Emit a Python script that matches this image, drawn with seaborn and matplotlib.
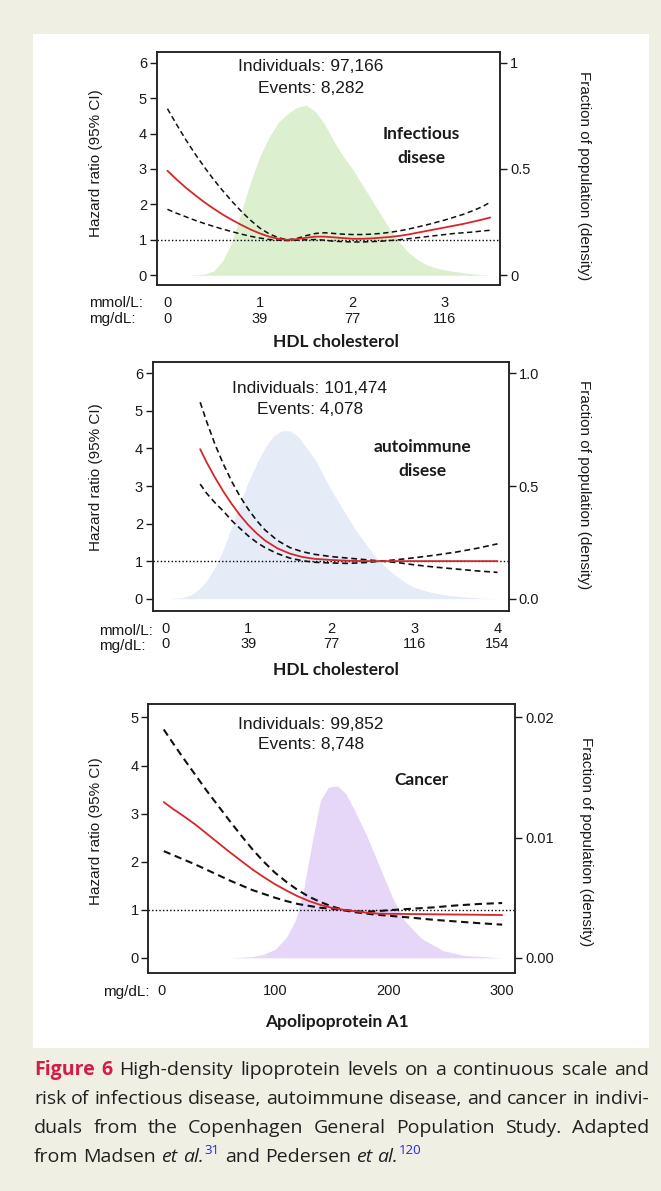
import numpy as np
import pandas as pd
import matplotlib
matplotlib.use("Agg")
import matplotlib.pyplot as plt
from matplotlib.patches import Rectangle
import seaborn as sns

# ---------------- data ----------------
# Panel 1: infectious disease vs HDL cholesterol (mmol/L)
inf_x = [0.0, 0.1, 0.2, 0.3, 0.4, 0.5, 0.6, 0.7, 0.8, 0.9, 1.0, 1.1, 1.2, 1.3, 1.4, 1.5, 1.6, 1.7,
         1.8, 1.9, 2.0, 2.1, 2.2, 2.3, 2.4, 2.5, 2.6, 2.7, 2.8, 2.9, 3.0, 3.1, 3.2, 3.3, 3.4, 3.49]
inf_hr = [2.95, 2.70, 2.47, 2.26, 2.06, 1.88, 1.71, 1.56, 1.42, 1.29, 1.18, 1.09, 1.03, 1.00, 1.02, 1.06,
          1.09, 1.09, 1.07, 1.05, 1.03, 1.03, 1.04, 1.06, 1.08, 1.11, 1.15, 1.20, 1.25, 1.30, 1.35, 1.40,
          1.45, 1.51, 1.57, 1.63]
inf_hi = [4.70, 4.25, 3.82, 3.42, 3.05, 2.70, 2.38, 2.08, 1.80, 1.55, 1.33, 1.17, 1.06, 1.00, 1.04, 1.12,
          1.18, 1.20, 1.18, 1.16, 1.15, 1.15, 1.16, 1.18, 1.21, 1.25, 1.30, 1.36, 1.42, 1.49, 1.56, 1.64,
          1.72, 1.82, 1.93, 2.06]
inf_lo = [1.86, 1.75, 1.65, 1.55, 1.46, 1.38, 1.30, 1.23, 1.16, 1.10, 1.05, 1.01, 0.99, 0.98, 0.99, 1.00,
          1.01, 0.99, 0.96, 0.95, 0.94, 0.94, 0.95, 0.96, 0.98, 1.00, 1.03, 1.06, 1.09, 1.12, 1.15, 1.18,
          1.20, 1.22, 1.25, 1.27]
inf_dens = [0.0, 0.0, 0.0, 0.002, 0.006, 0.02, 0.07, 0.16, 0.30, 0.44, 0.56, 0.65, 0.72, 0.76, 0.79, 0.80,
            0.77, 0.71, 0.63, 0.56, 0.50, 0.43, 0.36, 0.29, 0.22, 0.16, 0.11, 0.075, 0.05, 0.035, 0.025,
            0.018, 0.012, 0.007, 0.003, 0.0]

# Panel 2: autoimmune disease vs HDL cholesterol (mmol/L)
auto_x = [0.42, 0.5, 0.6, 0.7, 0.8, 0.9, 1.0, 1.1, 1.2, 1.35, 1.5, 1.65, 1.8, 2.0, 2.2, 2.4, 2.6, 2.8,
          3.0, 3.25, 3.5, 3.75, 4.0]
auto_hr = [3.98, 3.62, 3.22, 2.85, 2.52, 2.22, 1.96, 1.74, 1.55, 1.34, 1.20, 1.11, 1.06, 1.03, 1.01, 1.00,
           1.00, 1.00, 1.00, 1.00, 1.00, 1.00, 1.00]
auto_hi = [5.23, 4.70, 4.10, 3.58, 3.12, 2.72, 2.38, 2.08, 1.83, 1.55, 1.36, 1.25, 1.18, 1.12, 1.08, 1.04,
           1.00, 1.04, 1.09, 1.16, 1.24, 1.34, 1.46]
auto_lo = [3.05, 2.80, 2.55, 2.33, 2.08, 1.87, 1.67, 1.50, 1.36, 1.20, 1.08, 1.01, 0.97, 0.95, 0.94, 0.96,
           1.00, 0.96, 0.90, 0.84, 0.79, 0.74, 0.70]
auto_dens_x = [0.05, 0.2, 0.3, 0.4, 0.5, 0.6, 0.7, 0.8, 0.9, 1.0, 1.1, 1.2, 1.3, 1.4, 1.5, 1.6, 1.7, 1.8,
               1.9, 2.0, 2.1, 2.2, 2.3, 2.4, 2.5, 2.6, 2.7, 2.8, 2.9, 3.0, 3.2, 3.4, 3.6, 3.8, 4.0]
auto_dens = [0.0, 0.005, 0.015, 0.04, 0.08, 0.14, 0.22, 0.32, 0.42, 0.52, 0.60, 0.67, 0.72, 0.745, 0.745,
             0.72, 0.67, 0.62, 0.55, 0.48, 0.42, 0.36, 0.30, 0.25, 0.20, 0.16, 0.125, 0.095, 0.07, 0.05,
             0.028, 0.015, 0.008, 0.003, 0.0]

# Panel 3: cancer vs apolipoprotein A1 (mg/dL)
apo_x = [2, 10, 20, 30, 40, 50, 60, 70, 80, 90, 100, 110, 120, 130, 140, 150, 160, 170, 180, 190, 200,
         220, 240, 260, 280, 300]
can_hr = [3.24, 3.10, 2.94, 2.77, 2.58, 2.39, 2.20, 2.02, 1.84, 1.68, 1.53, 1.40, 1.28, 1.18, 1.10, 1.04,
          1.00, 0.97, 0.94, 0.92, 0.915, 0.91, 0.905, 0.90, 0.895, 0.89]
can_hi = [4.75, 4.47, 4.13, 3.80, 3.47, 3.16, 2.85, 2.55, 2.26, 2.00, 1.77, 1.58, 1.41, 1.27, 1.16, 1.07,
          1.00, 0.97, 0.96, 0.97, 0.99, 1.02, 1.05, 1.09, 1.12, 1.14]
can_lo = [2.22, 2.14, 2.04, 1.94, 1.83, 1.72, 1.61, 1.51, 1.41, 1.33, 1.25, 1.18, 1.12, 1.08, 1.04, 1.02,
          0.99, 0.95, 0.92, 0.895, 0.875, 0.835, 0.79, 0.755, 0.72, 0.69]
apo_dens_x = [2, 60, 80, 90, 100, 110, 118, 125, 133, 140, 147, 155, 162, 170, 181, 192, 203, 214, 229,
              248, 266, 300]
can_dens = [0.0, 0.0, 0.0001, 0.0003, 0.0007, 0.0017, 0.0031, 0.0056, 0.0098, 0.0131, 0.0142, 0.0143,
            0.0137, 0.0123, 0.0101, 0.0076, 0.0051, 0.0031, 0.0016, 0.0006, 0.0002, 0.0]

hdl_ticks = [0, 1, 2, 3, 4]
hdl_mmol_labels = ["0", "1", "2", "3", "4"]
hdl_mgdl_labels = ["0", "39", "77", "116", "154"]
apo_ticks = [0, 100, 200, 300]
apo_labels = ["0", "100", "200", "300"]

# ---------------- figure ----------------
W, H = 661, 1191
sns.set_style("white")
plt.rcParams["font.family"] = ["Liberation Sans", "DejaVu Sans"]
fig = plt.figure(figsize=(W / 100, H / 100), dpi=100)
fig.patch.set_facecolor("#efefe3")
fig.patches.append(Rectangle((33 / W, 1 - 1048 / H), (649 - 33) / W, (1048 - 34) / H,
                             transform=fig.transFigure, facecolor="white", edgecolor="none", zorder=-10))

TXT = "#1a1a1a"


def fx(x):
    return x / W


def fy(y):
    return 1 - y / H


def ftxt(x, y, s, **kw):
    kw.setdefault("ha", "center")
    kw.setdefault("va", "center")
    kw.setdefault("color", TXT)
    return fig.text(fx(x), fy(y), s, **kw)


def px_axes(l, t, r, b):
    return fig.add_axes([l / W, 1 - b / H, (r - l) / W, (b - t) / H])


def panel(box, x, hr, hi, lo, dx, dens, fill, xlim, ylim, yticks, rscale, rticks, rlabels,
          xticks, xlabels, dash_lw):
    ax = px_axes(*box)
    ax2 = ax.twinx()
    ax2.fill_between(dx, 0, dens, color=fill, lw=0)
    ax2.set_ylim(ylim[0] * rscale, ylim[1] * rscale)
    ax.set_zorder(ax2.get_zorder() + 1)
    ax.patch.set_visible(False)

    df = pd.DataFrame({"x": x, "hr": hr, "hi": hi, "lo": lo})
    ax.axhline(1, ls=(0, (1, 1.6)), color="black", lw=1.0)
    sns.lineplot(data=df, x="x", y="hi", ax=ax, color="#111111", lw=dash_lw, linestyle=(0, (3.5, 2.2)))
    sns.lineplot(data=df, x="x", y="lo", ax=ax, color="#111111", lw=dash_lw, linestyle=(0, (3.5, 2.2)))
    sns.lineplot(data=df, x="x", y="hr", ax=ax, color="#d7262b", lw=1.3)

    ax.set_xlim(*xlim)
    ax.set_ylim(*ylim)
    ax.set_yticks(yticks)
    ax.set_yticklabels([str(v) for v in yticks])
    ax.set_xticks(xticks)
    ax.set_xticklabels(xlabels, linespacing=1.15)
    ax.set_xlabel("")
    ax.set_ylabel("")
    ax2.set_yticks(rticks)
    ax2.set_yticklabels(rlabels)
    for a in (ax, ax2):
        a.tick_params(direction="out", length=5, width=1, labelsize=10.5, pad=2, colors=TXT)
        for s in a.spines.values():
            s.set_visible(True)
            s.set_color("#222222")
            s.set_linewidth(1.1)
    ax.tick_params(axis="x", pad=3)
    return ax, ax2


# Panel 1
panel((156.8, 52, 500.4, 285), inf_x, inf_hr, inf_hi, inf_lo, inf_x, inf_dens, "#dcefcf",
      (-0.115, 3.60), (-0.274, 6.30), [0, 1, 2, 3, 4, 5, 6], 1 / 6, [0, 0.5, 1], ["0", "0.5", "1"],
      hdl_ticks[:4], [f"{a}\n{b}" for a, b in zip(hdl_mmol_labels[:4], hdl_mgdl_labels[:4])], 1.1)

# Panel 2
panel((152.6, 361.7, 508.9, 610.7), auto_x, auto_hr, auto_hi, auto_lo, auto_dens_x, auto_dens, "#e5ecf7",
      (-0.153, 4.137), (-0.32, 6.31), [0, 1, 2, 3, 4, 5, 6], 1 / 6, [0, 0.5, 1.0], ["0.0", "0.5", "1.0"],
      hdl_ticks, [f"{a}\n{b}" for a, b in zip(hdl_mmol_labels, hdl_mgdl_labels)], 1.2)

# Panel 3
panel((148.4, 704, 515.2, 972.7), apo_x, can_hr, can_hi, can_lo, apo_dens_x, can_dens, "#e6d6f8",
      (-11.5, 311.5), (-0.31, 5.28), [0, 1, 2, 3, 4, 5], 0.004, [0, 0.01, 0.02], ["0.00", "0.01", "0.02"],
      apo_ticks, apo_labels, 1.5)

# annotations
ANN = 12.5
BOLD = dict(family=["Lato", "DejaVu Sans"], weight="bold", fontsize=12.5)
LAB = 11

ftxt(310.7, 66.7, "Individuals: 97,166", fontsize=ANN)
ftxt(310.7, 88.3, "Events: 8,282", fontsize=ANN)
ftxt(421.6, 134, "Infectious", **BOLD)
ftxt(421.6, 158, "disese", **BOLD)
ftxt(96, 163, "Hazard ratio (95% CI)", rotation=90, fontsize=LAB)
ftxt(584, 176, "Fraction of population (density)", rotation=270, fontsize=LAB)
ftxt(89.4, 311, "mmol/L:\nmg/dL:", ha="left", fontsize=11, linespacing=1.1)
ftxt(336, 342, "HDL cholesterol", **BOLD)

ftxt(310, 388.3, "Individuals: 101,474", fontsize=ANN)
ftxt(310, 409.3, "Events: 4,078", fontsize=ANN)
ftxt(422, 447.3, "autoimmune", **BOLD)
ftxt(422, 470.7, "disese", **BOLD)
ftxt(96, 477, "Hazard ratio (95% CI)", rotation=90, fontsize=LAB)
ftxt(584, 485, "Fraction of population (density)", rotation=270, fontsize=LAB)
ftxt(99, 638.7, "mmol/L:\nmg/dL:", ha="left", fontsize=11, linespacing=1.1)
ftxt(336, 670, "HDL cholesterol", **BOLD)

ftxt(310.7, 724.3, "Individuals: 99,852", fontsize=ANN)
ftxt(310.7, 744.3, "Events: 8,748", fontsize=ANN)
ftxt(421.6, 780, "Cancer", **BOLD)
ftxt(96, 831, "Hazard ratio (95% CI)", rotation=90, fontsize=LAB)
ftxt(586, 842, "Fraction of population (density)", rotation=270, fontsize=LAB)
ftxt(103, 991.7, "mg/dL:", ha="left", fontsize=11)
ftxt(337, 1021.7, "Apolipoprotein A1", **BOLD)

# ---------------- caption (justified) ----------------
CAP_FS = 14
CAP_FAM = ["Open Sans", "DejaVu Sans"]
styles = {
    "red": dict(family=CAP_FAM, fontsize=CAP_FS, weight="bold", color="#d31c48"),
    "n": dict(family=CAP_FAM, fontsize=CAP_FS, color="#231f20"),
    "i": dict(family=CAP_FAM, fontsize=CAP_FS, color="#231f20", style="italic"),
    "sup": dict(family=CAP_FAM, fontsize=9.5, color="#2424ee"),
}
lines = [
    ([("Figure", "red", 1), ("6", "red", 1)] +
     [(w, "n", 1) for w in "High-density lipoprotein levels on a continuous scale and".split()], 1075, True),
    ([(w, "n", 1) for w in "risk of infectious disease, autoimmune disease, and cancer in indivi-".split()], 1104, True),
    ([(w, "n", 1) for w in "duals from the Copenhagen General Population Study. Adapted".split()], 1132.7, True),
    ([("from", "n", 1), ("Madsen", "n", 1), ("et", "i", 1), ("al.", "i", 1), ("31", "sup", 0),
      ("and", "n", 1), ("Pedersen", "n", 1), ("et", "i", 1), ("al.", "i", 1), ("120", "sup", 0)], 1161.7, False),
]
fig.canvas.draw()
renderer = fig.canvas.get_renderer()
probe1 = fig.text(0, 0, "a a", **styles["n"])
probe2 = fig.text(0, 0, "aa", **styles["n"])
space_w = probe1.get_window_extent(renderer).width - probe2.get_window_extent(renderer).width
probe1.remove()
probe2.remove()

L0, L1 = 34.0, 649.0
for tokens, base, justify in lines:
    objs = []
    for s, st, gap in tokens:
        dy = -8 if st == "sup" else 0
        t = fig.text(0, fy(base + dy), s, va="baseline", ha="left", **styles[st])
        objs.append((t, t.get_window_extent(renderer).width, gap))
    total = sum(w for _, w, _ in objs)
    ngaps = sum(g for _, _, g in objs[1:])
    gap_w = (L1 - L0 - total) / ngaps if justify else space_w
    x = L0
    for k, (t, w, g) in enumerate(objs):
        if k > 0 and g:
            x += gap_w
        elif k > 0 and not g:
            x += 1
        t.set_x(fx(x))
        x += w

fig.savefig("out.png", dpi=100, facecolor=fig.get_facecolor())
